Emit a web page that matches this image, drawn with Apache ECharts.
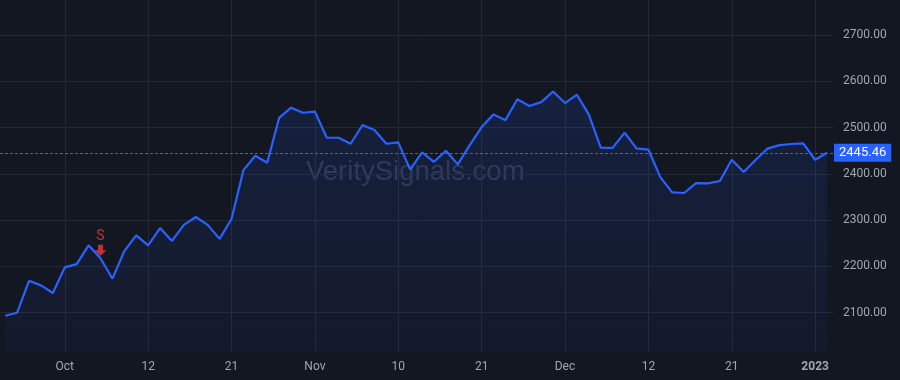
<!DOCTYPE html>
<html><head><meta charset="utf-8">
<script src="https://cdn.jsdelivr.net/npm/echarts@6/dist/echarts.min.js"></script>
<style>html,body{margin:0;padding:0;background:#131722}#c{width:900px;height:380px}</style>
</head><body><div id="c"></div>
<script>
const dates = [
 '2022-09-26','2022-09-27','2022-09-28','2022-09-29','2022-09-30',
 '2022-10-03','2022-10-04','2022-10-05','2022-10-06','2022-10-07','2022-10-10','2022-10-11','2022-10-12','2022-10-13','2022-10-14',
 '2022-10-17','2022-10-18','2022-10-19','2022-10-20','2022-10-21','2022-10-24','2022-10-25','2022-10-26','2022-10-27','2022-10-28','2022-10-31',
 '2022-11-01','2022-11-02','2022-11-03','2022-11-04','2022-11-07','2022-11-08','2022-11-09','2022-11-10','2022-11-11','2022-11-14',
 '2022-11-15','2022-11-16','2022-11-17','2022-11-18','2022-11-21','2022-11-22','2022-11-23','2022-11-25','2022-11-28','2022-11-29','2022-11-30',
 '2022-12-01','2022-12-02','2022-12-05','2022-12-06','2022-12-07','2022-12-08','2022-12-09','2022-12-12','2022-12-13','2022-12-14',
 '2022-12-15','2022-12-16','2022-12-19','2022-12-20','2022-12-21','2022-12-22','2022-12-23','2022-12-27','2022-12-28','2022-12-29','2022-12-30',
 '2023-01-03','2023-01-04'
];
const values = [
 2093.5, 2100, 2169, 2159, 2142.5,
 2198, 2205, 2245.6, 2217.5, 2173.5, 2233, 2267, 2245.6, 2283, 2255,
 2289.7, 2306.7, 2289.7, 2259.5, 2302.5, 2408, 2439, 2424, 2521, 2543, 2532,
 2534.5, 2478, 2478, 2465, 2505.5, 2494.7, 2465, 2468, 2409, 2446.5,
 2426, 2450, 2420.5, 2462, 2501, 2528.5, 2516, 2561, 2546.5, 2555, 2578,
 2553, 2571, 2528, 2456.5, 2456, 2489, 2455, 2452.5, 2393, 2360,
 2358.6, 2380, 2379.5, 2384.6, 2430.5, 2404, 2430, 2454.6, 2462, 2464.5, 2466,
 2430.5, 2445.46
];
const tickDates = ['2022-10-03','2022-10-12','2022-10-21','2022-11-01','2022-11-10','2022-11-21','2022-12-01','2022-12-12','2022-12-21','2023-01-03'];
const tickLabels = ['Oct','12','21','Nov','10','21','Dec','12','21','2023'];
const yTicks = [2100, 2200, 2300, 2400, 2500, 2600, 2700];
const yMin = 2015.1, yMax = 2775.6;
const lastPrice = 2445.46;
const signalDates = ['2022-10-06'];
const signalLabels = ['S'];

const tickIdx = tickDates.map(d => dates.indexOf(d));
const chart = echarts.init(document.getElementById('c'));
const txt = '#a3a6af';
chart.setOption({
  backgroundColor: '#131722',
  animation: false,
  grid: { left: 0, right: 67, top: 0, bottom: 28 },
  graphic: [{
    type: 'text', left: 306, top: 158, z: 0, silent: true,
    style: { text: 'VeritySignals.com', font: '27.5px "Liberation Sans", Arial, sans-serif', fill: 'rgba(125,135,165,0.28)' }
  }],
  xAxis: {
    type: 'value', min: -0.437, max: 69.5,
    axisLine: { show: false },
    axisTick: { show: false, customValues: tickIdx },
    splitLine: { show: true, lineStyle: { color: '#242834', width: 1 } },
    axisLabel: {
      customValues: tickIdx, margin: 9, color: txt, fontSize: 12, fontFamily: 'Roboto',
      formatter: v => { const t = tickLabels[tickIdx.indexOf(Math.round(v))]; return /^\d{4}$/.test(t) ? '{b|' + t + '}' : t; },
      rich: { b: { fontWeight: 'bold', color: txt, fontSize: 12, fontFamily: 'Roboto' } }
    }
  },
  yAxis: {
    type: 'value', position: 'right', min: yMin, max: yMax, scale: true,
    axisLine: { show: false },
    axisTick: { show: false, customValues: yTicks },
    splitLine: { show: true, lineStyle: { color: '#242834', width: 1 } },
    axisLabel: { customValues: yTicks, margin: 10, color: txt, fontSize: 12, fontFamily: 'Roboto', formatter: v => v.toFixed(2) }
  },
  series: [{
    type: 'line',
    data: values.map((v, i) => [i, v]),
    symbol: 'none',
    lineStyle: { color: '#2962ff', width: 2.2 },
    areaStyle: {
      origin: 'start',
      color: { type: 'linear', x: 0, y: 0, x2: 0, y2: 1, colorStops: [
        { offset: 0, color: 'rgba(41,98,255,0.19)' },
        { offset: 1, color: 'rgba(41,98,255,0.05)' }
      ] }
    },
    markLine: {
      silent: true, symbol: 'none',
      lineStyle: { color: '#2962ff', type: [3, 2], width: 1, opacity: 1 },
      label: {
        position: 'end', distance: 1, formatter: () => lastPrice.toFixed(2),
        color: '#ffffff', backgroundColor: '#2962ff', padding: [3, 5, 2, 5], fontSize: 13, fontFamily: 'Roboto'
      },
      data: [{ yAxis: lastPrice }]
    },
    z: 3
  }, {
    type: 'scatter',
    data: signalDates.map(d => { const i = dates.indexOf(d); return [i, values[i]]; }),
    symbol: 'path://M3,0 L7,0 L7,5 L10,5 L5,10 L0,5 L3,5 Z',
    symbolSize: [12, 11],
    symbolOffset: [0, -8],
    itemStyle: { color: '#f23645' },
    label: {
      show: true, position: 'top', distance: 1,
      formatter: p => signalLabels[p.dataIndex],
      color: '#f23645', fontSize: 14, fontFamily: 'Roboto'
    },
    z: 5
  }]
});
</script></body></html>
